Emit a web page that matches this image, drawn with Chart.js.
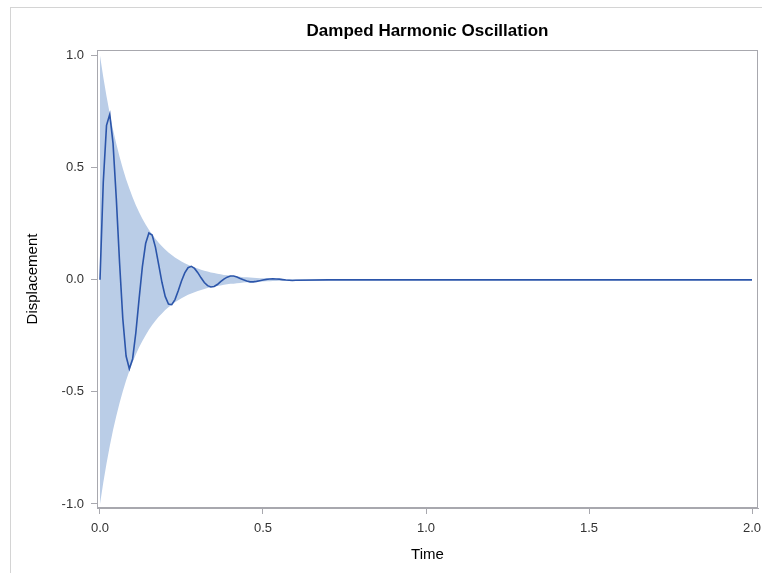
<!DOCTYPE html>
<html><head><meta charset="utf-8">
<script src="https://cdn.jsdelivr.net/npm/chart.js@4/dist/chart.umd.min.js"></script>
<style>
html,body{margin:0;padding:0;background:#fff;overflow:hidden;width:762px;height:573px;}
#frame{position:absolute;left:10px;top:7px;width:900px;height:700px;border-left:1px solid #d4d4d4;border-top:1px solid #d4d4d4;}
#c{position:absolute;left:0;top:0;}
</style></head><body>
<div id="frame"></div>
<canvas id="c" width="762" height="573"></canvas>
<script>
const chartTitle = 'Damped Harmonic Oscillation';
const xAxisTitle = 'Time';
const yAxisTitle = 'Displacement';
const xTickValues = [0.0, 0.5, 1.0, 1.5, 2.0];
const yTickValues = [-1.0, -0.5, 0.0, 0.5, 1.0];

const time = [0.00,0.01,0.02,0.03,0.04,0.05,0.06,0.07,0.08,0.09,
  0.10,0.11,0.12,0.13,0.14,0.15,0.16,0.17,0.18,0.19,
  0.20,0.21,0.22,0.23,0.24,0.25,0.26,0.27,0.28,0.29,
  0.30,0.31,0.32,0.33,0.34,0.35,0.36,0.37,0.38,0.39,
  0.40,0.41,0.42,0.43,0.44,0.45,0.46,0.47,0.48,0.49,
  0.50,0.51,0.52,0.53,0.54,0.55,0.56,0.57,0.58,0.59,
  0.60,0.70,0.80,1.00,1.50,2.00];

const displacement = [0,0.434,0.689,0.739,0.609,0.363,0.077,-0.174,-0.340,-0.397,
  -0.353,-0.235,-0.084,0.059,0.162,0.209,0.200,0.146,0.068,-0.011,
  -0.074,-0.108,-0.111,-0.088,-0.049,-0.005,0.031,0.054,0.060,0.051,
  0.032,0.009,-0.012,-0.026,-0.032,-0.030,-0.021,-0.008,0.003,0.012,
  0.017,0.017,0.013,0.006,0.000,-0.005,-0.009,-0.009,-0.007,-0.004,
  -0.001,0.002,0.004,0.005,0.004,0.003,0.001,-0.001,-0.002,-0.003,
  -0.002,0,0,0,0,0];

const bandUpper = [1.000,0.905,0.819,0.741,0.670,0.607,0.549,0.497,0.449,0.407,
  0.368,0.333,0.301,0.273,0.247,0.223,0.202,0.183,0.165,0.150,
  0.135,0.122,0.111,0.100,0.091,0.082,0.074,0.067,0.061,0.055,
  0.050,0.045,0.041,0.037,0.033,0.030,0.027,0.025,0.022,0.020,
  0.018,0.017,0.015,0.014,0.012,0.011,0.010,0.009,0.008,0.007,
  0.007,0.006,0.006,0.005,0.005,0.004,0.004,0.003,0.003,0.003,
  0.002,0.001,0,0,0,0];

const bandLower = [-1.000,-0.905,-0.819,-0.741,-0.670,-0.607,-0.549,-0.497,-0.449,-0.407,
  -0.368,-0.333,-0.301,-0.273,-0.247,-0.223,-0.202,-0.183,-0.165,-0.150,
  -0.135,-0.122,-0.111,-0.100,-0.091,-0.082,-0.074,-0.067,-0.061,-0.055,
  -0.050,-0.045,-0.041,-0.037,-0.033,-0.030,-0.027,-0.025,-0.022,-0.020,
  -0.018,-0.017,-0.015,-0.014,-0.012,-0.011,-0.010,-0.009,-0.008,-0.007,
  -0.007,-0.006,-0.006,-0.005,-0.005,-0.004,-0.004,-0.003,-0.003,-0.003,
  -0.002,-0.001,0,0,0,0];

const FONT = '"Liberation Sans", Arial, sans-serif';
const toXY = (xs, ys) => xs.map((x, i) => ({x: x, y: ys[i]}));

const framePlugin = {
  id: 'plotFrame',
  afterDraw(chart) {
    const {ctx, chartArea: a} = chart;
    ctx.save();
    ctx.strokeStyle = '#a8a8ae';
    ctx.lineWidth = 1;
    ctx.strokeRect(Math.round(a.left) + 0.5, Math.round(a.top) + 0.5,
                   Math.round(a.right - a.left) - 1, Math.round(a.bottom - a.top) - 1);
    ctx.restore();
  }
};

new Chart(document.getElementById('c'), {
  type: 'line',
  data: {
    datasets: [
      {
        label: 'Displacement',
        data: toXY(time, displacement),
        borderColor: '#2b55aa',
        borderWidth: 1.6,
        pointRadius: 0,
        tension: 0,
        fill: false
      },
      {
        label: 'Lower',
        data: toXY(time, bandLower),
        borderWidth: 0,
        borderColor: 'rgba(0,0,0,0)',
        pointRadius: 0,
        fill: false
      },
      {
        label: 'Upper',
        data: toXY(time, bandUpper),
        borderWidth: 0,
        borderColor: 'rgba(0,0,0,0)',
        backgroundColor: '#bacde7',
        pointRadius: 0,
        fill: '-1'
      }
    ]
  },
  options: {
    responsive: false,
    animation: false,
    devicePixelRatio: 1,
    layout: { padding: { top: 0, left: 0, right: 4, bottom: 0 } },
    plugins: {
      legend: { display: false },
      tooltip: { enabled: false },
      title: {
        display: true,
        text: chartTitle,
        fullSize: false,
        color: '#000',
        font: { family: FONT, size: 17, weight: 'bold', lineHeight: 1.2 },
        padding: { top: 20.8, bottom: 8.8 }
      }
    },
    scales: {
      x: {
        type: 'linear',
        position: 'bottom',
        min: -0.0092,
        max: 2.0184,
        afterBuildTicks: s => { s.ticks = xTickValues.map(v => ({value: v})); },
        afterFit: s => { s.height = 65; s.paddingLeft = 0; s.paddingRight = 0; },
        ticks: {
          callback: v => Number(v).toFixed(1),
          color: '#333',
          font: { family: FONT, size: 13 },
          padding: 7,
          maxRotation: 0,
          autoSkip: false
        },
        grid: { drawOnChartArea: false, drawTicks: true, tickLength: 6, color: '#a8a8ae' },
        border: { display: true, color: '#a8a8ae' },
        title: {
          display: true,
          text: xAxisTitle,
          color: '#000',
          font: { family: FONT, size: 15, lineHeight: 1.2 },
          padding: { top: 0, bottom: 9 }
        }
      },
      y: {
        type: 'linear',
        position: 'left',
        min: -1.018,
        max: 1.0254,
        afterBuildTicks: s => { s.ticks = yTickValues.map(v => ({value: v})); },
        afterFit: s => { s.width = 97; s.paddingTop = 0; s.paddingBottom = 0; },
        ticks: {
          callback: v => Number(v).toFixed(1),
          color: '#333',
          font: { family: FONT, size: 13 },
          padding: 7,
          autoSkip: false
        },
        grid: { drawOnChartArea: false, drawTicks: true, tickLength: 6, color: '#a8a8ae' },
        border: { display: true, color: '#a8a8ae' },
        title: {
          display: true,
          text: yAxisTitle,
          color: '#000',
          font: { family: FONT, size: 15, lineHeight: 1.2 },
          padding: { top: 24, bottom: 0 }
        }
      }
    }
  },
  plugins: [framePlugin]
});
</script>
</body></html>
